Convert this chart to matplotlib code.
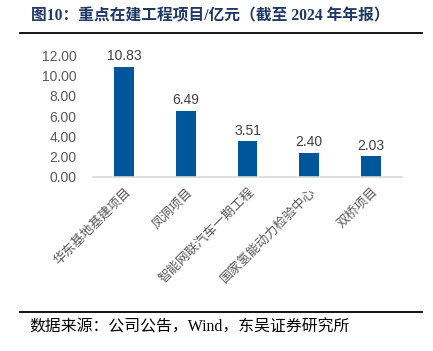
import matplotlib
matplotlib.use("Agg")
import matplotlib.pyplot as plt
from matplotlib.lines import Line2D

plt.rcParams['font.family'] = ['Liberation Sans', 'Noto Sans CJK SC', 'DejaVu Sans']

# data
categories = ['华东基地基建项目', '凤洞项目', '智能网联汽车一期工程', '国家氢能动力检验中心', '双桥项目']
values = [10.83, 6.49, 3.51, 2.40, 2.03]
yticks = [0, 2, 4, 6, 8, 10, 12]

fig = plt.figure(figsize=(4.33, 3.51), dpi=100)
ax = fig.add_axes([0.215, 0.496, 0.713, 0.347])

x = list(range(len(categories)))
bars = ax.bar(x, values, width=0.32, color='#00569B', zorder=2)
for xi, v in zip(x, values):
    ax.text(xi, v + 0.35, '%.2f' % v, ha='center', va='bottom', fontsize=10, color='#404040')

ax.set_xlim(-0.5, len(categories) - 0.5)
ax.set_ylim(0, 12)
ax.set_yticks(yticks)
ax.set_yticklabels(['%.2f' % t for t in yticks], fontsize=10, color='#595959')
ax.set_xticks(x)
ax.set_xticklabels(categories, rotation=45, ha='right', rotation_mode='anchor',
                   fontsize=9.3, color='#595959', family=['Noto Sans CJK SC', 'DejaVu Sans'])
ax.tick_params(axis='both', length=0, pad=6)
ax.tick_params(axis='y', pad=12)
for s in ['top', 'right', 'left']:
    ax.spines[s].set_visible(False)
ax.spines['bottom'].set_color('#D9D9D9')
ax.spines['bottom'].set_linewidth(1.2)

# title and source
fig.text(0.072, 0.952, '图10：重点在建工程项目/亿元（截至 2024 年年报）', fontsize=11.3,
         fontweight='bold', color='#1F3864', va='center',
         family=['Liberation Serif', 'Noto Sans CJK SC', 'DejaVu Sans'])
fig.add_artist(Line2D([0.046, 0.975], [0.906, 0.906], color='black', lw=1.3))
fig.add_artist(Line2D([0.046, 0.975], [0.111, 0.111], color='black', lw=1.3))
fig.text(0.069, 0.068, '数据来源：公司公告，Wind，东吴证券研究所', fontsize=11.4,
         color='black', va='center',
         family=['Liberation Serif', 'Noto Sans CJK SC', 'DejaVu Sans'])

fig.savefig('out.png', dpi=100)
